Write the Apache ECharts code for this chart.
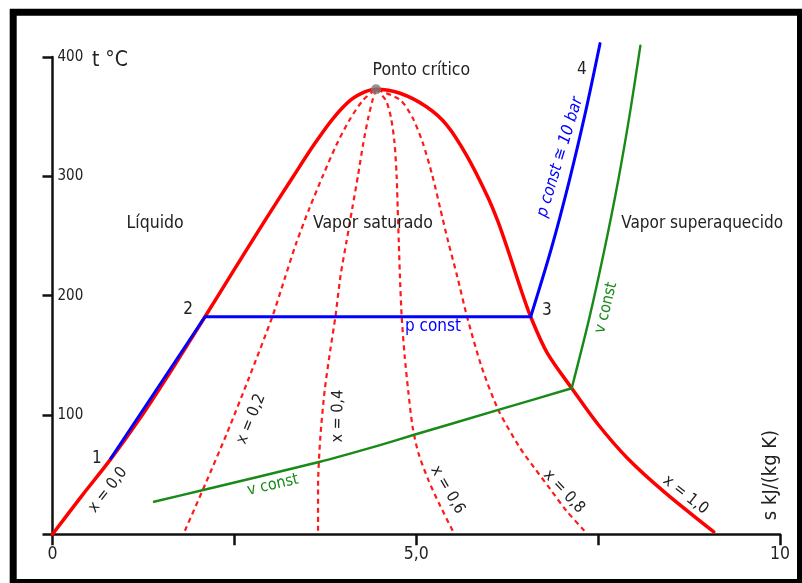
<!DOCTYPE html>
<html>
<head>
<meta charset="utf-8">
<script src="https://cdn.jsdelivr.net/npm/echarts@6/dist/echarts.min.js"></script>
<style>html,body{margin:0;padding:0;background:#fff}#c{width:802px;height:583px}</style>
</head>
<body>
<div id="c"></div>
<script>
// ---- data (s in kJ/(kg K), t in °C) ----
const xTickLabels = {0: '0', 5: '5,0', 10: '10'};
const yTickLabels = {100: '100', 200: '200', 300: '300', 400: '400'};
const saturationLine = [[0,0],[0.4,32],[0.8,63],[1.2,97],[1.65,139],[2.096,182.3],[2.5,222],[2.9,261],[3.3,299],[3.6,327],[3.85,348],[4.1,364],[4.3,371],[4.447,373],[4.777,369.6],[5.14,358.3],[5.42,343],[5.69,317.8],[5.97,284.4],[6.12,262.6],[6.27,236.4],[6.42,208.6],[6.573,182.3],[6.80,152],[7.137,122.4],[7.50,92],[7.90,64],[8.40,36],[9.09,2]];
const quality02 = [[1.82,3],[2.10,42],[2.40,85],[2.70,131],[3.02,182],[3.19,214],[3.35,244],[3.53,273],[3.72,301],[3.90,326],[4.08,347],[4.27,364],[4.447,373]];
const quality04 = [[3.65,3],[3.65,40],[3.68,80],[3.74,120],[3.82,155],[3.89,183],[3.96,217],[4.04,245],[4.12,273],[4.20,301],[4.27,327],[4.34,349],[4.40,364],[4.447,373]];
const quality06 = [[5.50,3],[5.32,25],[5.17,45],[5.03,68],[4.95,90],[4.89,120],[4.84,150],[4.80,182],[4.775,217],[4.76,245],[4.745,273],[4.73,301],[4.70,329],[4.65,350],[4.58,364],[4.447,373]];
const quality08 = [[7.31,3],[7.06,20],[6.84,38],[6.62,56],[6.43,72],[6.13,104],[5.90,140],[5.70,182],[5.56,217],[5.44,245],[5.33,273],[5.22,301],[5.09,328],[4.95,349],[4.78,364],[4.447,373]];
const pressureLow = [[0.80,63.5],[2.096,182.3],[6.573,182.3]];
const pressureHigh = [[6.573,182.3],[6.857,239.5],[7.105,296.7],[7.327,354.0],[7.526,411.2]];
const volumeLow = [[1.395,27.3],[2.073,37.1],[3.677,60.8],[4.502,74.8],[4.96,83.2],[6.128,104.2],[7.137,122.4]];
const volumeHigh = [[7.137,122.4],[7.373,179.7],[7.582,237.2],[7.770,294.6],[7.935,352.1],[8.081,409.5]];
const criticalPoint = [[4.447,373]];

// ---- annotations (text, data position, rotation in degrees) ----
const FONT = "'DejaVu Sans Condensed','DejaVu Sans',sans-serif";
const annotations = [
  {text:'Ponto crítico', at:[5.07,389], rot:0, color:'#222', size:17.5},
  {text:'Líquido', at:[1.41,260.7], rot:0, color:'#222', size:17.5},
  {text:'Vapor saturado', at:[4.405,260.7], rot:0, color:'#222', size:17.5},
  {text:'Vapor superaquecido', at:[8.93,260.7], rot:0, color:'#222', size:17},
  {text:'1', at:[0.61,63.2], rot:0, color:'#222', size:17},
  {text:'2', at:[1.863,188.7], rot:0, color:'#222', size:17},
  {text:'3', at:[6.797,187.9], rot:0, color:'#222', size:17},
  {text:'4', at:[7.278,389.7], rot:0, color:'#222', size:17},
  {text:'p const', at:[5.23,173.8], rot:0, color:'#0000ff', size:17},
  {text:'p const ≅ 10 bar', at:[6.976,316], rot:73, color:'#0000ff', size:16.5, italic:true},
  {text:'v const', at:[7.61,189.8], rot:76, color:'#178a17', size:16},
  {text:'v const', at:[3.03,41.3], rot:13, color:'#178a17', size:16},
  {text:'x = 0,0', at:[0.763,37.1], rot:52, color:'#222', size:16},
  {text:'x = 0,2', at:[2.73,96.6], rot:68, color:'#222', size:16},
  {text:'x = 0,4', at:[3.925,99], rot:89, color:'#222', size:16},
  {text:'x = 0,6', at:[5.43,37.2], rot:-60, color:'#222', size:16},
  {text:'x = 0,8', at:[7.03,35.8], rot:-47, color:'#222', size:16},
  {text:'x = 1,0', at:[8.70,32.9], rot:-38, color:'#222', size:16},
  {text:'s kJ/(kg K)', at:[9.876,49.7], rot:90, color:'#222', size:20},
  {text:'t °C', at:[0.79,397], rot:0, color:'#222', size:21}
];

const chart = echarts.init(document.getElementById('c'), null, {renderer:'canvas'});
const dashed = (d) => ({type:'line', data:d, smooth:0.25, showSymbol:false, clip:false, silent:true,
  lineStyle:{color:'#ff1a1a', width:2.2, type:[5,4]}, z:2});
const solid = (d, color, width, smooth, z) => ({type:'line', data:d, smooth:smooth, showSymbol:false,
  clip:false, silent:true, lineStyle:{color:color, width:width, cap:'round', join:'round'}, z:z});
chart.setOption({
  animation:false,
  backgroundColor:'#fff',
  grid:{left:52.5, right:22, top:57, bottom:48.7, containLabel:false},
  xAxis:{type:'value', min:0, max:10, interval:2.5,
    axisLine:{lineStyle:{color:'#111', width:2.5}},
    axisTick:{show:true, length:11, lineStyle:{color:'#111', width:2.5}},
    axisLabel:{color:'#222', fontSize:17.5, fontFamily:FONT, margin:11,
      formatter:(v)=> xTickLabels[v] !== undefined ? xTickLabels[v] : ''},
    splitLine:{show:false}},
  yAxis:{type:'value', min:0, max:400, interval:100,
    axisLine:{show:true, lineStyle:{color:'#111', width:2.5}},
    axisTick:{show:true, length:10, lineStyle:{color:'#111', width:2.5}},
    axisLabel:{inside:true, color:'#222', fontSize:15, fontFamily:FONT, margin:5,
      formatter:(v)=> yTickLabels[v] !== undefined ? yTickLabels[v] : ''},
    splitLine:{show:false}},
  series:[
    dashed(quality02), dashed(quality04), dashed(quality06), dashed(quality08),
    solid(saturationLine, '#ff0000', 3.5, 0.3, 3),
    solid(pressureLow, '#0000ff', 3, false, 4),
    solid(pressureHigh, '#0000ff', 3, 0.3, 4),
    solid(volumeLow, '#178a17', 2.4, 0.2, 5),
    solid(volumeHigh, '#178a17', 2.4, 0.3, 5),
    {type:'scatter', data:criticalPoint, symbolSize:10, silent:true,
      itemStyle:{color:'#7a7a7a'}, z:6}
  ]
});

const graphics = [{
  type:'rect', silent:true, z:100,
  shape:{x:13.2, y:12.2, width:787.3, height:570.3},
  style:{fill:'none', stroke:'#000', lineWidth:7}
}];
annotations.forEach(a => {
  const p = chart.convertToPixel({gridIndex:0}, a.at);
  graphics.push({type:'text', silent:true, z:50, x:p[0], y:p[1], rotation:a.rot*Math.PI/180,
    style:{text:a.text, fill:a.color, align:'center', verticalAlign:'middle',
      font:(a.italic?'italic ':'') + a.size + 'px ' + FONT}});
});
chart.setOption({graphic:graphics});
</script>
</body>
</html>
